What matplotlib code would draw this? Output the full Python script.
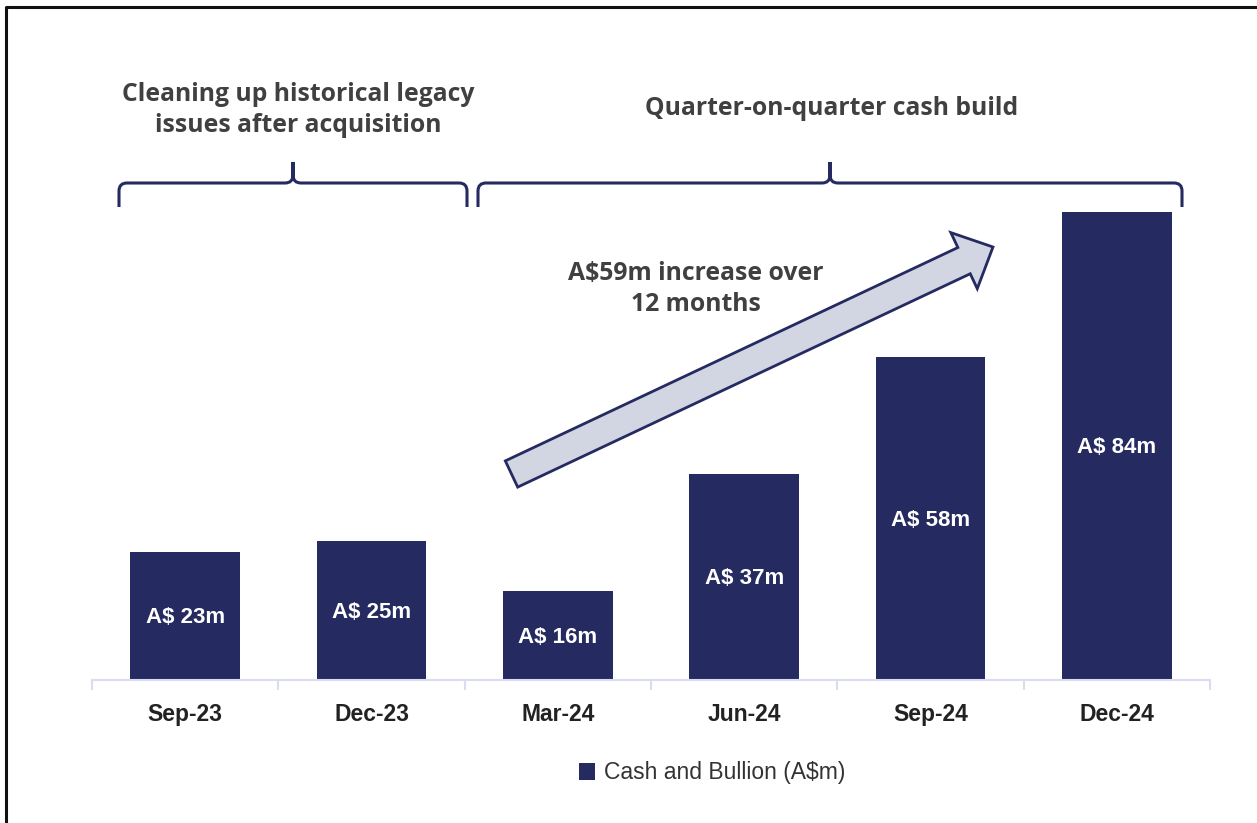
import matplotlib.pyplot as plt
from matplotlib.path import Path
from matplotlib.patches import PathPatch, FancyArrow

quarters = ["Sep-23", "Dec-23", "Mar-24", "Jun-24", "Sep-24", "Dec-24"]
cash = [23, 25, 16, 37, 58, 84]
bar_labels = ["A$ 23m", "A$ 25m", "A$ 16m", "A$ 37m", "A$ 58m", "A$ 84m"]
series_name = "Cash and Bullion (A$m)"

NAVY = "#252a60"
TEXT_GREY = "#404040"
W, H = 1257, 823


def brace(ax, x0, x1, xm, y_line, y_end, y_tip, r=8):
    """Curly bracket opening downward, drawn in pixel coords."""
    verts = [
        (x0, y_end), (x0, y_line + r), (x0, y_line), (x0 + r, y_line),
        (xm - r, y_line), (xm, y_line), (xm, y_line - r), (xm, y_tip),
        (xm, y_tip), (xm, y_line - r), (xm, y_line), (xm + r, y_line),
        (x1 - r, y_line), (x1, y_line), (x1, y_line + r), (x1, y_end),
    ]
    codes = [
        Path.MOVETO, Path.LINETO, Path.CURVE3, Path.CURVE3,
        Path.LINETO, Path.CURVE3, Path.CURVE3, Path.LINETO,
        Path.MOVETO, Path.LINETO, Path.CURVE3, Path.CURVE3,
        Path.LINETO, Path.CURVE3, Path.CURVE3, Path.LINETO,
    ]
    ax.add_patch(PathPatch(Path(verts, codes), fill=False, edgecolor=NAVY,
                           linewidth=2.2, capstyle="butt"))


fig = plt.figure(figsize=(W / 100, H / 100), dpi=100)

# main bar axes
ax = fig.add_axes([92 / W, (H - 680) / H, (1210 - 92) / W, 557 / H])
x = list(range(len(quarters)))
bars = ax.bar(x, cash, width=0.59, color=NAVY, label=series_name, zorder=2)
for b, lab in zip(bars, bar_labels):
    ax.text(b.get_x() + b.get_width() / 2, b.get_height() / 2 - 0.3, lab,
            ha="center", va="center", color="white", fontsize=16,
            fontweight="bold", family="Liberation Sans")

ax.set_xlim(-0.5, len(quarters) - 0.5)
ax.set_ylim(0, 100)
ax.set_xticks(x)
ax.set_xticklabels(quarters, fontsize=16.5, fontweight="bold",
                   family="Liberation Sans", color="#222222")
ax.set_xticks([i - 0.5 for i in range(len(quarters) + 1)], minor=True)
ax.tick_params(axis="x", which="major", length=0, pad=16.5)
ax.tick_params(axis="x", which="minor", length=7, width=1.5, color="#d9dcf2")
ax.set_yticks([])
for s in ["top", "right", "left"]:
    ax.spines[s].set_visible(False)
ax.spines["bottom"].set_color("#d9dcf2")
ax.spines["bottom"].set_linewidth(1.5)

leg = fig.legend(handles=[bars], labels=[series_name], loc="center",
                 bbox_to_anchor=(712 / W, 1 - 773 / H), frameon=False,
                 handlelength=0.7, handleheight=0.7, handletextpad=0.4,
                 prop={"family": "Liberation Sans", "size": 16.5})
for t in leg.get_texts():
    t.set_color("#333333")

# overlay in pixel coords for the annotations
ov = fig.add_axes([0, 0, 1, 1], facecolor="none")
ov.set_xlim(0, W)
ov.set_ylim(H, 0)
ov.axis("off")

# frame (only left/top visible in the crop)
ov.plot([6, 6, W + 5], [H + 5, 7, 7], color="#111111", linewidth=2.2)

brace(ov, 119, 467, 293, 183, 207, 162)
brace(ov, 478, 1182, 830, 183, 207, 162)

note_font = dict(fontsize=17.8, fontweight="bold", family="Open Sans",
                 color=TEXT_GREY, ha="center", va="center")
ov.text(298, 110, "Cleaning up historical legacy\nissues after acquisition",
        linespacing=1.33, **note_font)
ov.text(832, 108, "Quarter-on-quarter cash build", **note_font)

tail = (511.5, 474)
tip = (993, 247)
ov.add_patch(FancyArrow(tail[0], tail[1], tip[0] - tail[0], tip[1] - tail[1],
                        width=29, head_width=62, head_length=32,
                        length_includes_head=True, facecolor="#d2d5e2",
                        edgecolor=NAVY, linewidth=2))
ov.text(696, 289, "A$59m increase over\n12 months", linespacing=1.33,
        **note_font)

fig.savefig("out.png", dpi=100)
